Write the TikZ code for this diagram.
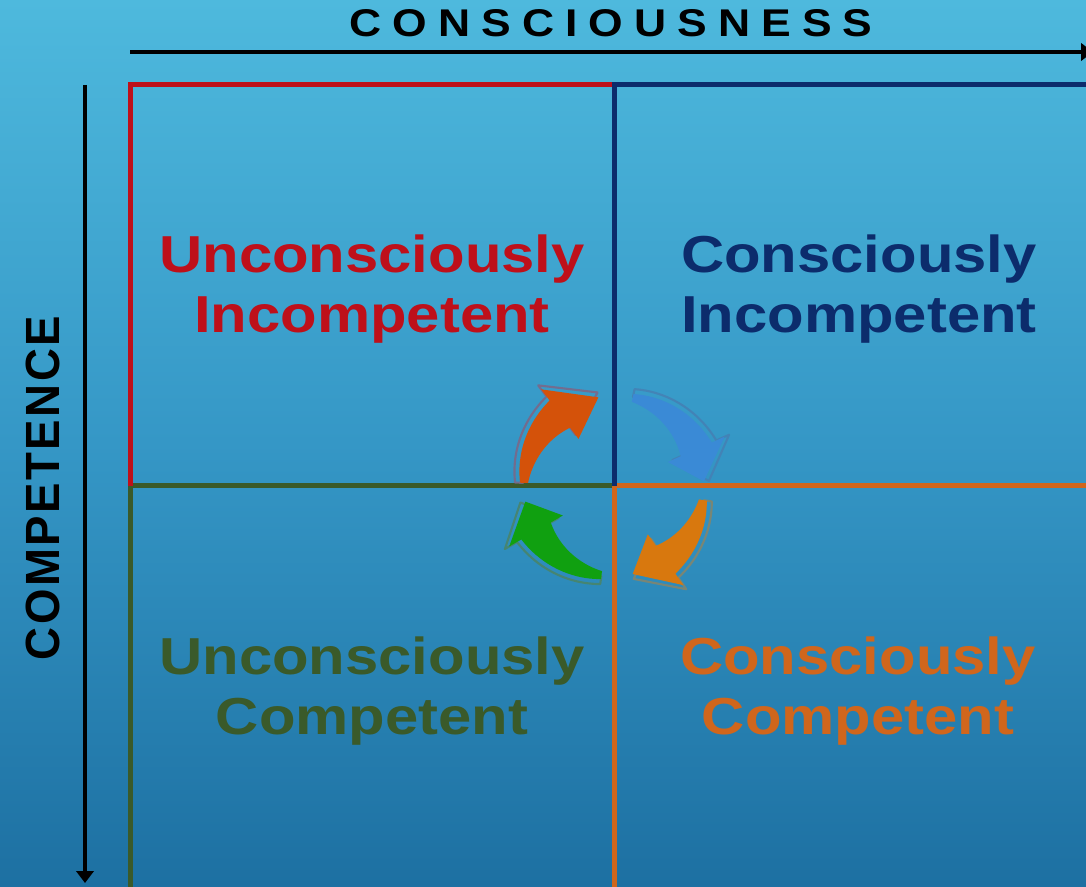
\documentclass[tikz,border=0pt]{standalone}
\usepackage{fontspec}
\setmainfont{Liberation Sans}
\usetikzlibrary{arrows.meta}
\definecolor{bgtop}{HTML}{4EB9DD}
\definecolor{bgmid}{HTML}{3597C6}
\definecolor{bgbot}{HTML}{1D70A2}
\definecolor{ured}{HTML}{BE101A}
\definecolor{unavy}{HTML}{0C2C6C}
\definecolor{ugreen}{HTML}{3A5A2A}
\definecolor{uorange}{HTML}{D0661C}
\definecolor{aredf}{HTML}{D4520A}
\definecolor{aredo}{HTML}{7E6585}
\definecolor{abluef}{HTML}{3A8AD6}
\definecolor{ablueo}{HTML}{4580B4}
\definecolor{aorf}{HTML}{D8780E}
\definecolor{aoro}{HTML}{85856A}
\definecolor{agrf}{HTML}{10A010}
\definecolor{agro}{HTML}{4A8466}
\newcommand\Lsp{\kern7.2pt}
\newcommand\Lsq{\kern2pt}
\newcommand\arrowpath[4]{%
 plot[domain=#2:#3, samples=24, variable=\t] (\t:{#1+4+13*(\t-(#2))/((#3)-(#2))})
 -- (#3:{#1+31}) -- (#4:{#1}) -- (#3:{#1-31})
 -- plot[domain=#3:#2, samples=24, variable=\t] (\t:{#1-4-13*(\t-(#2))/((#3)-(#2))}) -- cycle}
\newcommand\cyclearrow[5]{%
 \draw[#2, line width=1.6pt, opacity=0.85, line join=round] \arrowpath{95}{#3}{#4}{#5};
 \fill[#1] \arrowpath{90}{#3}{#4}{#5};}
\begin{document}
\begin{tikzpicture}[x=0.75pt,y=0.75pt,
  axis/.style={line width=3pt,-{Triangle[width=13pt,length=9pt]}},
  quadline/.style={line width=3.75pt, line join=miter},
  quad/.style={font=\fontsize{39}{45}\selectfont\bfseries, inner sep=0pt, anchor=base},
  hdr/.style={font=\fontsize{29}{32}\selectfont\bfseries, inner sep=0pt, anchor=base, text=black}]
\useasboundingbox (0,0) rectangle (1086,886);
\shade[top color=bgtop, bottom color=bgbot, middle color=bgmid] (0,0) rectangle (1086,886);
% axes
\coordinate (hx0) at (130,834);
\coordinate (hx1) at (1093,834);
\coordinate (vy0) at (85,801);
\coordinate (vy1) at (85,3);
\draw[axis] (hx0) -- (hx1);
\draw[axis] (vy0) -- (vy1);
\node[hdr] (cons) at (611,849) {\scalebox{1.15}[1]{C\Lsp O\Lsp N\Lsp S\Lsp C\Lsp I\Lsp O\Lsp U\Lsp S\Lsp N\Lsp E\Lsp S\Lsp S}};
\node[hdr, font=\fontsize{36}{40}\selectfont\bfseries, rotate=90] (comp) at (60,398) {\scalebox{0.95}[1]{C\Lsq O\Lsq M\Lsq P\Lsq E\Lsq T\Lsq E\Lsq N\Lsq C\Lsq E}};
% grid
\coordinate (tl) at (130,801);
\coordinate (tm) at (614,801);
\coordinate (tr) at (1092,801);
\coordinate (ml) at (130,400);
\coordinate (mm) at (614,400);
\coordinate (mr) at (1092,400);
\coordinate (bl) at (130,-6);
\coordinate (bm) at (614,-6);
\draw[quadline, ugreen] (bl) -- (ml) -- (mm);
\draw[quadline, uorange] (bm) -- (mm) -- (mr);
\draw[quadline, ured] (ml) -- (tl) -- (tm);
\draw[quadline, unavy] (mm) -- (tm) -- (tr);
% cycle arrows
\begin{scope}[shift={(614,400)}]
\cyclearrow{aredf}{aredo}{178}{127}{100}
\cyclearrow{abluef}{ablueo}{78}{24}{3}
\cyclearrow{aorf}{aoro}{-9}{-55}{-78}
\cyclearrow{agrf}{agro}{262}{210}{190}
\end{scope}
% texts
\node[quad, text=ured] (ui1) at (372,613) {\scalebox{1.15}[1]{Unconsciously}};
\node[quad, text=ured] (ui2) at (372,553) {\scalebox{1.15}[1]{Incompetent}};
\node[quad, text=unavy] (ci1) at (859,613) {\scalebox{1.15}[1]{Consciously}};
\node[quad, text=unavy] (ci2) at (859,553) {\scalebox{1.15}[1]{Incompetent}};
\node[quad, text=ugreen] (uc1) at (372,211) {\scalebox{1.15}[1]{Unconsciously}};
\node[quad, text=ugreen] (uc2) at (372,151) {\scalebox{1.15}[1]{Competent}};
\node[quad, text=uorange] (cc1) at (858,211) {\scalebox{1.15}[1]{Consciously}};
\node[quad, text=uorange] (cc2) at (858,151) {\scalebox{1.15}[1]{Competent}};
\end{tikzpicture}
\end{document}
